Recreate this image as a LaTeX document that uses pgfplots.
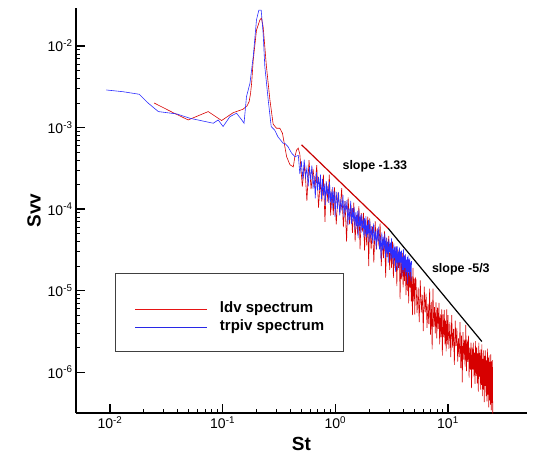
\documentclass[border=0pt]{standalone}
\usepackage{fontspec}
\setmainfont{Liberation Sans}
\usepackage{pgfplots}
\pgfplotsset{compat=1.18}
\definecolor{ldvred}{RGB}{215,0,0}
\definecolor{pivblue}{RGB}{45,45,255}
\definecolor{legblue}{RGB}{40,40,230}
\definecolor{legred}{RGB}{230,20,20}
\definecolor{sloperd}{RGB}{200,0,0}
\begin{document}
\begin{tikzpicture}
\begin{axis}[
  at={(76pt,40pt)}, anchor=south west,
  scale only axis, width=450.7pt, height=404.7pt,
  xmode=log, ymode=log,
  xmin=0.005, xmax=50, ymin=3.16e-7, ymax=0.029,
  axis lines=left,
  axis line style={-, line width=1.6pt},
  tick align=inside,
  major tick length=9pt, minor tick length=4.5pt,
  major tick style={line width=1.3pt, black},
  minor tick style={line width=0.8pt, black},
  xtick={0.01,0.1,1,10},
  xticklabels={10\textsuperscript{-2},10\textsuperscript{-1},10\textsuperscript{0},10\textsuperscript{1}},
  ytick={1e-6,1e-5,1e-4,1e-3,1e-2},
  yticklabels={10\textsuperscript{-6},10\textsuperscript{-5},10\textsuperscript{-4},10\textsuperscript{-3},10\textsuperscript{-2}},
  tick label style={font=\fontsize{14}{16}\selectfont},
  xlabel={St}, ylabel={Svv},
  label style={font=\fontsize{19}{22}\selectfont\bfseries},
  xlabel style={at={(axis description cs:0.5,-0.0754)}, anchor=center},
  ylabel style={at={(axis description cs:-0.0932,0.5)}, anchor=center},
  legend style={at={(axis description cs:0.0865,0.3467)}, anchor=north west,
    draw=black!75, line width=0.8pt, inner xsep=19pt, inner ysep=17.2pt,
    font=\fontsize{15}{17}\selectfont\bfseries, cells={anchor=base west},
    row sep=3.8pt, nodes={inner sep=0pt, text depth=3.2pt},
    /tikz/every odd column/.style={column sep=12pt}},
]
% ldv spectrum
\addplot[ldvred, draw=ldvred, line width=0.6pt,
  legend image code/.code={\draw[draw=legred, line width=1.6pt] (0pt,3pt) -- (72pt,3pt);}] coordinates {
(0.0247,2.0e-3) (0.0365,1.52e-3) (0.0495,1.24e-3) (0.0745,1.57e-3) (0.098,1.22e-3)
(0.124,1.52e-3) (0.152,1.68e-3) (0.165,1.85e-3) (0.172,2.08e-3) (0.177,2.6e-3)
(0.181,3.5e-3) (0.187,6.7e-3) (0.200,1.57e-2) (0.214,2.08e-2) (0.221,2.2e-2)
(0.229,1.73e-2) (0.245,5.6e-3) (0.263,2.18e-3) (0.281,1.1e-3) (0.301,9.8e-4)
(0.322,9.8e-4) (0.34,8.5e-4) (0.37,4.4e-4) (0.396,3.5e-4) (0.424,3.3e-4)
(0.438,4.4e-4) (0.454,5.3e-4) (0.469,5.6e-4)
(0.485,4.7e-4) (0.51,1.89e-4) (0.535,3.56e-4) (0.56,1.26e-4) (0.585,3.98e-4)
(0.61,1.76e-4) (0.635,3.11e-4) (0.66,1.82e-4) (0.685,3.47e-4) (0.71,1.04e-4)
(0.735,2.18e-4) (0.76,1.24e-4) (0.785,2.64e-4) (0.81,7.0e-5) (0.835,2.11e-4)
(0.86,1.22e-4) (0.885,2.65e-4) (0.91,8.3e-5) (0.935,1.75e-4) (0.96,8.5e-5)
(0.985,1.85e-4)
(1.02,6.5e-5) (1.06,1.62e-4) (1.10,8.9e-5) (1.14,1.81e-4) (1.18,6.0e-5)
(1.22,1.25e-4) (1.26,4.0e-5) (1.30,1.39e-4) (1.34,6.5e-5) (1.38,1.11e-4)
(1.42,5.1e-5) (1.46,1.2e-4) (1.50,4.0e-5) (1.54,8.5e-5) (1.58,4.9e-5)
(1.62,1.09e-4) (1.66,3.2e-5) (1.70,8.9e-5) (1.74,5.3e-5) (1.78,9.0e-5)
(1.82,3.1e-5) (1.86,7.3e-5) (1.90,3.6e-5) (1.94,8.1e-5) (1.98,2.0e-5)
(2.02,7.7e-5) (2.08,3.2e-5) (2.14,6.1e-5) (2.20,2.2e-5) (2.26,7.1e-5)
(2.32,3.2e-5) (2.38,5.8e-5) (2.44,3.5e-5) (2.50,6.7e-5) (2.56,2.0e-5)
(2.62,4.3e-5) (2.68,2.5e-5) (2.74,5.4e-5) (2.80,1.45e-5) (2.86,4.4e-5)
(2.92,2.6e-5) (2.98,4.7e-5) (3.04,1.8e-5) (3.10,3.8e-5) (3.16,1.9e-5)
(3.22,4.0e-5) (3.28,1.44e-5) (3.34,3.2e-5) (3.40,1.9e-5) (3.46,3.5e-5)
(3.52,1.14e-5) (3.58,3.2e-5) (3.64,1.9e-5) (3.70,3.2e-5) (3.76,7.9e-6)
(3.82,2.6e-5) (3.88,1.38e-5) (3.94,2.9e-5) (4.00,1.1e-5) (4.06,2.1e-5)
(4.12,1.31e-5) (4.18,2.7e-5) (4.24,8.8e-6) (4.30,2.1e-5) (4.36,9.9e-6)
(4.42,2.4e-5) (4.48,7.0e-6) (4.54,2.0e-5) (4.60,1.09e-5) (4.66,2.0e-5)
(4.72,7.4e-6) (4.78,1.5e-5) (4.84,5.0e-6) (4.90,1.9e-5) (4.96,7.4e-6)
(5.02,1.4e-5) (5.08,5.1e-6) (5.14,1.42e-5)
(5.20,1.36e-5) (5.32,5.3e-6) (5.44,1.10e-5) (5.56,4.1e-6) (5.68,1.34e-5)
(5.80,5.4e-6) (5.92,8.9e-6) (6.04,3.2e-6) (6.16,1.12e-5) (6.28,5.4e-6)
(6.40,9.2e-6) (6.52,3.5e-6) (6.64,6.9e-6) (6.76,3.9e-6) (6.88,1.06e-5)
(7.00,2.9e-6) (7.12,7.3e-6) (7.24,1.9e-6) (7.36,1.06e-5) (7.48,3.6e-6)
(7.60,6.3e-6) (7.72,3.0e-6) (7.84,7.2e-6) (7.96,2.6e-6) (8.08,6.2e-6)
(8.20,3.4e-6) (8.32,7.1e-6) (8.44,2.2e-6) (8.56,5.1e-6) (8.68,2.7e-6)
(8.80,5.9e-6) (8.92,1.6e-6) (9.04,5.1e-6) (9.16,2.7e-6) (9.28,5.8e-6)
(9.40,2.2e-6) (9.52,4.3e-6) (9.64,1.8e-6) (9.76,5.9e-6) (9.88,2.2e-6)
(10.0,5.0e-6) (10.2,1.94e-6) (10.4,4.1e-6) (10.6,1.53e-6) (10.8,5.0e-6)
(11.0,2.0e-6) (11.2,3.4e-6) (11.4,1.23e-6) (11.6,4.3e-6) (11.8,2.1e-6)
(12.0,3.5e-6) (12.2,1.35e-6) (12.4,2.6e-6) (12.6,1.53e-6) (12.8,4.1e-6)
(13.0,1.12e-6) (13.2,2.8e-6) (13.4,7.5e-7) (13.6,3.1e-6) (13.8,1.43e-6)
(14.0,2.5e-6) (14.2,1.17e-6) (14.4,3.8e-6) (14.6,1.03e-6) (14.8,2.5e-6)
(15.0,1.34e-6) (15.2,2.8e-6) (15.4,8.6e-7) (15.6,2.0e-6) (15.8,1.07e-6)
(16.0,2.3e-6) (16.2,6.4e-7) (16.4,2.0e-6) (16.6,1.08e-6) (16.8,2.3e-6)
(17.0,8.9e-7) (17.2,1.74e-6) (17.4,7.2e-7) (17.6,2.4e-6) (17.8,9.0e-7)
(18.0,2.0e-6) (18.2,7.3e-7) (18.4,1.70e-6) (18.6,5.8e-7) (18.8,2.3e-6)
(19.0,8.8e-7) (19.2,1.72e-6) (19.4,6.1e-7) (19.6,1.90e-6) (19.8,7.0e-7)
(20.0,2.2e-6) (20.2,5.1e-7) (20.4,1.46e-6) (20.6,6.1e-7) (20.8,1.85e-6)
(21.0,4.3e-7) (21.2,1.59e-6) (21.4,6.8e-7) (21.6,1.85e-6) (21.8,5.1e-7)
(22.0,1.40e-6) (22.2,4.4e-7) (22.4,1.94e-6) (22.6,5.3e-7) (22.8,1.51e-6)
(23.0,3.7e-7) (23.2,1.61e-6) (23.4,4.5e-7) (23.6,1.34e-6) (23.8,4.0e-7)
(24.0,1.66e-6) (24.2,3.4e-7) (24.4,1.36e-6) (24.6,4.2e-7) (24.8,1.41e-6)
(25.0,3.1e-7)
};
\addlegendentry{\raisebox{0pt}[22.4pt][3.2pt]{ldv spectrum}}
% trpiv spectrum
\addplot[pivblue, draw=pivblue, line width=0.6pt,
  legend image code/.code={\draw[draw=legblue, line width=1.6pt] (0pt,3pt) -- (72pt,3pt);}] coordinates {
(0.0093,2.89e-3) (0.0131,2.75e-3) (0.0182,2.56e-3) (0.0219,1.99e-3) (0.0269,1.57e-3)
(0.0391,1.47e-3) (0.0513,1.30e-3) (0.0826,1.13e-3) (0.0914,1.24e-3) (0.101,1.03e-3)
(0.116,1.36e-3) (0.133,1.50e-3) (0.148,1.24e-3) (0.155,1.13e-3) (0.163,2.4e-3)
(0.175,3.5e-3) (0.187,7.4e-3) (0.200,2.1e-2) (0.21,2.76e-2) (0.22,2.76e-2)
(0.229,1.43e-2) (0.237,5.6e-3) (0.254,2.18e-3) (0.27,1.03e-3) (0.29,9.3e-4)
(0.31,7.7e-4) (0.345,6.4e-4) (0.357,6.4e-4) (0.38,5.85e-4) (0.41,4.85e-4)
(0.438,4.4e-4)
(0.47,4.55e-4) (0.485,2.69e-4) (0.50,3.88e-4) (0.515,2.33e-4) (0.53,4.05e-4)
(0.545,2.47e-4) (0.56,3.22e-4) (0.575,1.90e-4) (0.59,3.28e-4) (0.605,2.29e-4)
(0.62,3.44e-4) (0.635,1.79e-4) (0.65,2.55e-4) (0.665,1.35e-4) (0.68,2.85e-4)
(0.695,1.70e-4) (0.71,2.48e-4) (0.725,1.72e-4) (0.74,2.65e-4) (0.755,1.34e-4)
(0.77,2.34e-4) (0.785,1.46e-4) (0.80,2.05e-4) (0.815,1.13e-4) (0.83,2.21e-4)
(0.845,1.49e-4) (0.86,1.94e-4) (0.875,1.19e-4) (0.89,2.17e-4) (0.905,1.22e-4)
(0.92,1.64e-4) (0.935,1.02e-4) (0.95,1.86e-4) (0.965,1.19e-4) (0.98,1.64e-4)
(0.995,8.1e-5)
(1.02,1.63e-4) (1.045,1.01e-4) (1.07,1.60e-4) (1.095,8.4e-5) (1.12,1.33e-4)
(1.145,9.6e-5) (1.17,1.48e-4) (1.195,8.0e-5) (1.22,1.25e-4) (1.245,9.1e-5)
(1.27,1.29e-4) (1.295,6.3e-5) (1.32,1.04e-4) (1.345,7.4e-5) (1.37,1.26e-4)
(1.395,6.6e-5) (1.42,1.03e-4) (1.445,7.1e-5) (1.47,1.07e-4) (1.495,5.6e-5)
(1.52,9.1e-5) (1.545,6.2e-5) (1.57,9.5e-5) (1.595,4.4e-5) (1.62,9.8e-5)
(1.645,6.1e-5) (1.67,8.4e-5) (1.695,5.1e-5) (1.72,8.7e-5) (1.745,5.9e-5)
(1.77,7.5e-5) (1.795,4.5e-5) (1.82,7.8e-5) (1.845,4.9e-5) (1.87,8.2e-5)
(1.895,4.5e-5) (1.92,6.4e-5) (1.945,4.9e-5) (1.97,7.4e-5) (1.995,3.9e-5)
(2.03,7.1e-5) (2.07,4.3e-5) (2.11,6.2e-5) (2.15,3.8e-5) (2.19,6.7e-5)
(2.23,4.1e-5) (2.27,5.4e-5) (2.31,3.2e-5) (2.35,5.7e-5) (2.39,4.0e-5)
(2.43,6.1e-5) (2.47,3.2e-5) (2.51,4.6e-5) (2.55,2.4e-5) (2.59,5.2e-5)
(2.63,3.1e-5) (2.67,4.6e-5) (2.71,3.2e-5) (2.75,5.0e-5) (2.79,2.5e-5)
(2.83,4.5e-5) (2.87,2.8e-5) (2.91,4.0e-5) (2.95,2.2e-5) (2.99,4.3e-5)
(3.03,3.0e-5) (3.07,3.9e-5) (3.11,2.4e-5) (3.15,4.4e-5) (3.19,2.5e-5)
(3.23,3.3e-5) (3.27,2.1e-5) (3.31,3.8e-5) (3.35,2.5e-5) (3.39,3.4e-5)
(3.43,1.7e-5) (3.47,3.5e-5) (3.51,2.2e-5) (3.55,3.5e-5) (3.59,1.8e-5)
(3.63,3.0e-5) (3.67,2.2e-5) (3.71,3.4e-5) (3.75,1.9e-5) (3.79,3.0e-5)
(3.83,2.2e-5) (3.87,3.1e-5) (3.91,1.5e-5) (3.95,2.6e-5) (3.99,1.8e-5)
(4.03,3.2e-5) (4.07,1.7e-5) (4.11,2.7e-5) (4.15,1.9e-5) (4.19,2.8e-5)
(4.23,1.5e-5) (4.27,2.4e-5) (4.31,1.7e-5) (4.35,2.6e-5) (4.39,1.2e-5)
(4.43,2.7e-5) (4.47,1.7e-5) (4.51,2.4e-5) (4.55,1.5e-5) (4.59,2.5e-5)
(4.63,1.7e-5) (4.67,2.2e-5) (4.71,1.3e-5) (4.75,2.3e-5)
};
\addlegendentry{\raisebox{0pt}[11pt][3.2pt]{trpiv spectrum}}
% reference slopes
\addplot[sloperd, line width=1.2pt, forget plot] coordinates {(0.502,6.15e-4) (2.95,5.8e-5)};
\addplot[black, line width=1.2pt, forget plot] coordinates {(2.95,5.8e-5) (20,2.38e-6)};
\node[font=\fontsize{12.5}{14}\selectfont\bfseries] at (axis cs:2.246,3.34e-4) {slope -1.33};
\node[font=\fontsize{12.5}{14}\selectfont\bfseries] at (axis cs:13.02,1.83e-5) {slope -5/3};
\end{axis}
\pgfresetboundingbox
\useasboundingbox (0pt,0pt) rectangle (533pt,453pt);
\end{tikzpicture}
\end{document}
